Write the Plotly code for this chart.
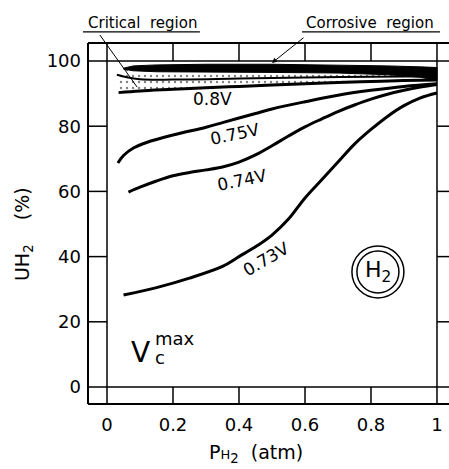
import plotly.graph_objects as go

# ---- data ----
x_ticks = [0, 0.2, 0.4, 0.6, 0.8, 1]
x_tick_labels = ["0", "0.2", "0.4", "0.6", "0.8", "1"]
y_ticks = [0, 20, 40, 60, 80, 100]
y_tick_labels = ["0", "20", "40", "60", "80", "100"]

v073_x = [0.05, 0.15, 0.25, 0.35, 0.4, 0.45, 0.5, 0.55, 0.6, 0.65, 0.7, 0.75, 0.8, 0.85, 0.9, 0.95, 1.0]
v073_y = [28.2, 30.5, 33.4, 37.0, 40.0, 43.0, 46.6, 51.5, 58.0, 63.5, 69.0, 74.5, 79.0, 83.0, 86.3, 88.7, 90.2]

v074_x = [0.065, 0.1, 0.15, 0.2, 0.25, 0.3, 0.35, 0.4, 0.45, 0.5, 0.55, 0.6, 0.65, 0.7, 0.75, 0.8, 0.85, 0.9, 0.95, 1.0]
v074_y = [59.8, 61.3, 63.2, 64.8, 65.8, 66.6, 67.5, 69.0, 71.2, 74.0, 77.0, 79.8, 82.2, 84.5, 86.5, 88.3, 89.8, 91.0, 92.0, 92.8]

v075_x = [0.033, 0.05, 0.08, 0.12, 0.2, 0.3, 0.35, 0.4, 0.45, 0.5, 0.6, 0.7, 0.8, 0.9, 1.0]
v075_y = [68.7, 71.0, 73.3, 75.0, 77.3, 79.7, 81.1, 82.5, 83.9, 85.3, 87.5, 89.5, 91.0, 92.2, 93.0]

v080_x = [0.035, 0.1, 0.2, 0.3, 0.4, 0.5, 0.6, 0.7, 0.8, 0.9, 1.0]
v080_y = [90.3, 90.8, 91.3, 91.8, 92.2, 92.6, 93.0, 93.4, 93.7, 94.0, 94.2]

crit_x = [0.03, 0.06, 0.1, 0.2, 0.4, 0.6, 0.8, 1.0]
crit_y = [95.8, 95.0, 94.4, 94.3, 94.6, 94.9, 95.2, 95.3]

corr_x = [0.05, 0.08, 0.15, 0.3, 0.5, 0.7, 0.85, 0.95, 1.0]
corr_upper = [97.8, 98.5, 98.8, 99.0, 99.0, 98.8, 98.5, 98.2, 98.0]
corr_lower = [97.5, 97.0, 96.7, 96.6, 96.5, 96.3, 95.8, 95.0, 94.0]

FONT = "DejaVu Sans"
fig = go.Figure()

stipple = dict(shape=".", fgcolor="black", bgcolor="white", size=6, solidity=0.12)
# stippled critical region (between critical line / band and 0.8V line)
fig.add_trace(go.Scatter(x=crit_x + v080_x[::-1], y=crit_y + v080_y[::-1], mode="lines", fill="toself",
                         line=dict(width=0, color="rgba(0,0,0,0)"), fillcolor="white",
                         fillpattern=stipple, hoverinfo="skip", showlegend=False))
fig.add_trace(go.Scatter(x=crit_x + corr_x[::-1], y=crit_y + corr_lower[::-1], mode="lines", fill="toself",
                         line=dict(width=0, color="rgba(0,0,0,0)"), fillcolor="white",
                         fillpattern=stipple, hoverinfo="skip", showlegend=False))

# corrosive region (black band)
fig.add_trace(go.Scatter(x=corr_x + corr_x[::-1], y=corr_upper + corr_lower[::-1],
                         mode="lines", fill="toself", fillcolor="black",
                         line=dict(width=1, color="black"),
                         hoverinfo="skip", showlegend=False))

for xs, ys, w in [(crit_x, crit_y, 2), (v080_x, v080_y, 3), (v075_x, v075_y, 3),
                  (v074_x, v074_y, 3), (v073_x, v073_y, 3)]:
    fig.add_trace(go.Scatter(x=xs, y=ys, mode="lines", line=dict(color="black", width=w, shape="spline"),
                             hoverinfo="skip", showlegend=False))

# frame, inner axes lines and ticks
shapes = []
blk = dict(color="black", width=2)
shapes.append(dict(type="line", xref="paper", yref="paper", x0=0, x1=0, y0=0, y1=1, line=blk))
shapes.append(dict(type="line", xref="paper", yref="paper", x0=0, x1=1, y0=1, y1=1, line=blk))
shapes.append(dict(type="line", xref="paper", yref="paper", x0=0, x1=1, y0=0, y1=0, line=blk))
thin = dict(color="black", width=1.5)
shapes.append(dict(type="line", xref="x", yref="paper", x0=0, x1=0, y0=0, y1=1, line=thin))
shapes.append(dict(type="line", xref="x", yref="paper", x0=1, x1=1, y0=0, y1=1, line=thin))
shapes.append(dict(type="line", xref="paper", yref="y", x0=0, x1=1, y0=0, y1=0, line=thin))
shapes.append(dict(type="line", xref="paper", yref="y", x0=0, x1=1, y0=100, y1=100, line=thin))
for xv in x_ticks[1:-1]:
    shapes.append(dict(type="line", xref="x", yref="paper", x0=xv, x1=xv, y0=0, y1=0.047, line=thin))
    shapes.append(dict(type="line", xref="x", yref="paper", x0=xv, x1=xv, y0=0.95, y1=1, line=thin))
for yv in y_ticks[1:-1]:
    shapes.append(dict(type="line", xref="paper", yref="y", x0=0, x1=0.053, y0=yv, y1=yv, line=thin))
    shapes.append(dict(type="line", xref="x", yref="y", x0=1, x1=1.05, y0=yv, y1=yv, line=thin))

# H2 double circle
cx, cy = 0.821, 35.3
for r in (26, 21):
    shapes.append(dict(type="circle", xref="x", yref="y", xsizemode="pixel", ysizemode="pixel",
                       xanchor=cx, yanchor=cy, x0=-r, x1=r, y0=-r, y1=r,
                       line=dict(color="black", width=1.5)))

# label underlines and pointer line
shapes.append(dict(type="line", xref="paper", yref="paper", x0=-0.014, x1=0.31, y0=1.031, y1=1.031,
                   line=dict(color="black", width=1.2)))
shapes.append(dict(type="line", xref="paper", yref="paper", x0=0.593, x1=0.975, y0=1.031, y1=1.031,
                   line=dict(color="black", width=1.2)))
shapes.append(dict(type="line", xref="paper", yref="paper", x0=0.033, x1=0.136, y0=1.022, y1=0.878,
                   line=dict(color="black", width=1)))

ann = []
ann.append(dict(x=0.5, y=99.4, ax=0.6, ay=107.5, xref="x", yref="y", axref="x", ayref="y",
                text="", showarrow=True, arrowhead=2, arrowsize=1, arrowwidth=1, arrowcolor="black"))


def txt(x, y, t, size, angle=0, xref="x", yref="y"):
    ann.append(dict(x=x, y=y, xref=xref, yref=yref, text=t, showarrow=False, textangle=angle,
                    xanchor="center", yanchor="middle",
                    font=dict(family=FONT, size=size, color="black")))


txt(0.151, 1.056, "Critical  region", 15, xref="paper", yref="paper")
txt(0.78, 1.056, "Corrosive  region", 15, xref="paper", yref="paper")
txt(0.321, 88.3, "0.8V", 17)
txt(0.388, 77.5, "0.75V", 17, -12)
txt(0.409, 63.6, "0.74V", 17, -12)
txt(0.482, 39.3, "0.73V", 17, -30)
txt(cx, cy, "H<sub>2</sub>", 22)
txt(0.10, 10.5, "V", 28)
txt(0.205, 15.0, "max", 18)
txt(0.161, 9.0, "c", 18)
txt(0.465, -0.138, "P<span style='font-size:13px'>H</span><sub>2</sub>  (atm)", 19,
    xref="paper", yref="paper")
txt(-0.178, 0.47, "UH<sub>2</sub>    (%)", 19, -90, xref="paper", yref="paper")

fig.update_layout(
    width=449, height=469,
    margin=dict(l=88, r=0, t=43, b=65, autoexpand=False),
    paper_bgcolor="white", plot_bgcolor="white",
    shapes=shapes, annotations=ann,
    font=dict(family=FONT, size=18, color="black"),
    xaxis=dict(range=[-0.0576, 1.0364], tickvals=x_ticks, ticktext=x_tick_labels,
               showgrid=False, zeroline=False, showline=False, ticks="", automargin=False,
               tickfont=dict(family=FONT, size=18), ticklabelstandoff=8),
    yaxis=dict(range=[-5.21, 105.52], tickvals=y_ticks, ticktext=y_tick_labels,
               showgrid=False, zeroline=False, showline=False, ticks="", automargin=False,
               tickfont=dict(family=FONT, size=18), ticklabelstandoff=6),
)
fig.write_html("out.html", config={"displayModeBar": False},
               post_script="document.body.style.margin='0';document.body.style.overflow='hidden';")
